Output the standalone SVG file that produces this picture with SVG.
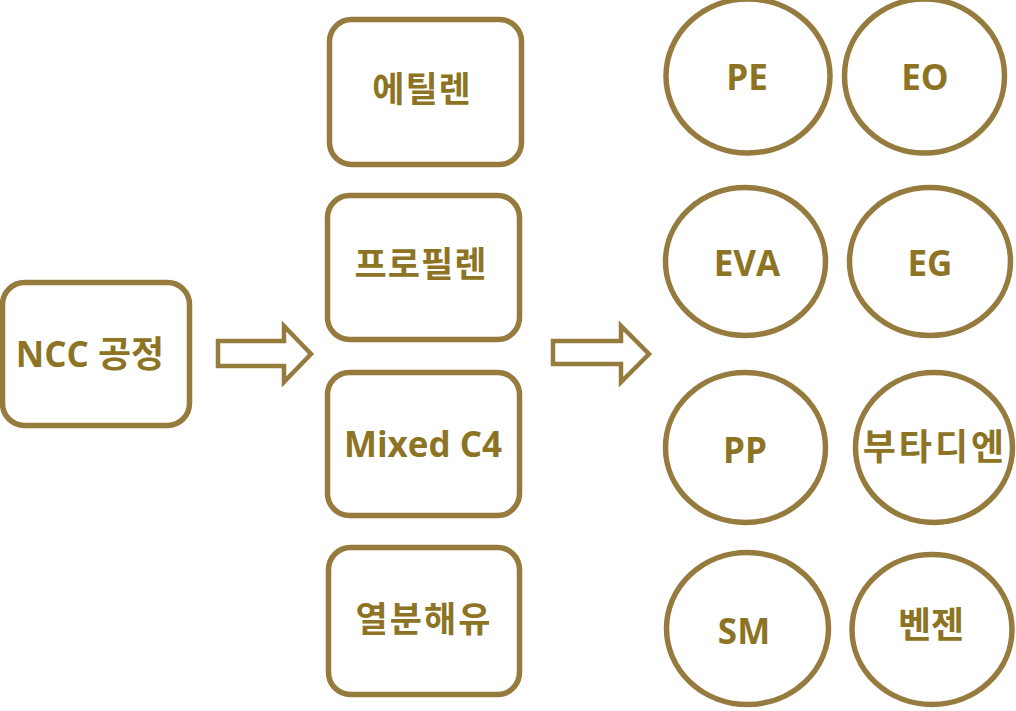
<svg xmlns="http://www.w3.org/2000/svg" width="1016" height="711" viewBox="0 0 1016 711">
<style>
.box{fill:#ffffff;stroke:#967B3F;stroke-width:5.5}
.arr{fill:#ffffff;stroke:#967B3F;stroke-width:4.5;stroke-linejoin:miter}
.t{font-family:"Open Sans","Noto Sans CJK KR",sans-serif;font-weight:bold;font-size:35px;fill:#8C7424;text-anchor:middle}
.k{font-family:"Noto Sans CJK KR",sans-serif;font-weight:bold;font-size:35px;fill:#8C7424;text-anchor:middle}
</style>
<rect width="1016" height="711" fill="#ffffff"/>
<g id="connectors">
<polygon class="arr" points="218,341 284,341 284,326 311,354 284,382 284,366 218,366"/>
<polygon class="arr" points="553,341 621,341 621,326 649,354 621,382 621,364 553,364"/>
</g>
<g id="ncc"><rect class="box" x="2.5" y="282.5" width="187" height="143" rx="22"/><text class="t" x="90" y="367">NCC <tspan style="font-family:'Noto Sans CJK KR',sans-serif;font-size:36px">공정</tspan></text></g>
<g id="ethylene"><rect class="box" x="329.5" y="19.5" width="192" height="145" rx="22"/><text class="k" x="422" y="102" letter-spacing="1">에틸렌</text></g>
<g id="propylene"><rect class="box" x="327.5" y="195.5" width="192" height="144" rx="22"/><text class="k" x="421" y="277" letter-spacing="1">프로필렌</text></g>
<g id="mixedc4"><rect class="box" x="327.5" y="372.5" width="192" height="143" rx="22"/><text class="t" x="423" y="457">Mixed C4</text></g>
<g id="pyrolysis"><rect class="box" x="328.5" y="547.5" width="191" height="147" rx="22"/><text class="k" x="424" y="632" letter-spacing="2">열분해유</text></g>
<g id="pe"><ellipse class="box" cx="748" cy="76" rx="82" ry="77"/><text class="t" x="747" y="90">PE</text></g>
<g id="eo"><ellipse class="box" cx="924.5" cy="76" rx="80" ry="77"/><text class="t" x="925" y="90">EO</text></g>
<g id="eva"><ellipse class="box" cx="745.5" cy="261.5" rx="80" ry="74"/><text class="t" x="747" y="276">EVA</text></g>
<g id="eg"><ellipse class="box" cx="930" cy="261.5" rx="80.5" ry="74"/><text class="t" x="930" y="276">EG</text></g>
<g id="pp"><ellipse class="box" cx="745.5" cy="447.5" rx="80" ry="75"/><text class="t" x="745" y="463">PP</text></g>
<g id="butadiene"><ellipse class="box" cx="934" cy="447.5" rx="78.5" ry="75"/><text class="k" x="935" y="460" letter-spacing="3" style="font-size:36px">부타디엔</text></g>
<g id="sm"><ellipse class="box" cx="747.5" cy="628.5" rx="81" ry="76"/><text class="t" x="744" y="644">SM</text></g>
<g id="benzene"><ellipse class="box" cx="932" cy="629.5" rx="80" ry="75"/><text class="k" x="931" y="638" style="font-size:36px">벤젠</text></g>
</svg>
